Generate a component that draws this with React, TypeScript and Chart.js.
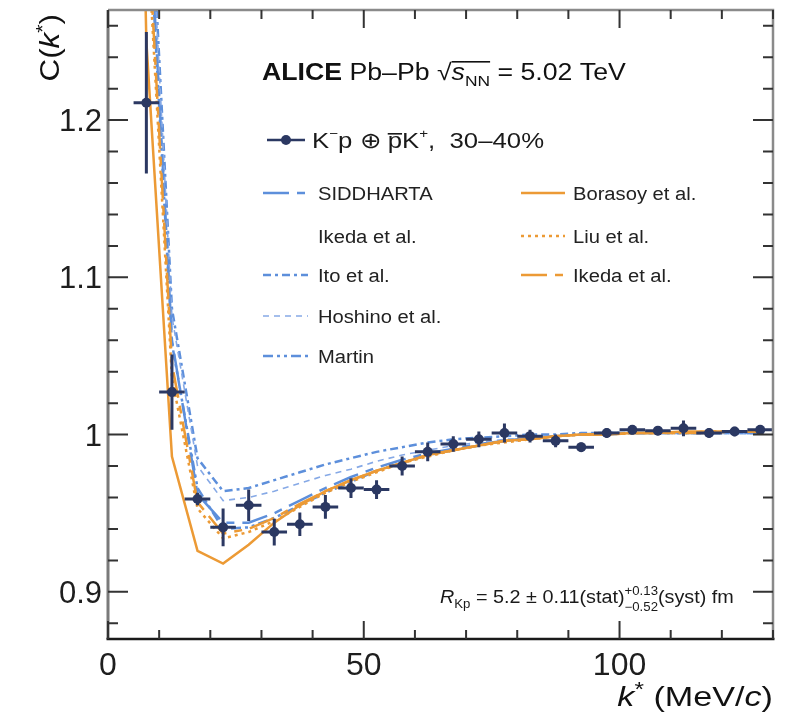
import { useEffect, useRef } from "react";
import { Chart, registerables } from "chart.js";

Chart.register(...registerables);

// ---------------- data ----------------
const kStar = [7.5, 12.5, 17.5, 22.5, 27.5, 32.5, 37.5, 42.5, 47.5, 52.5, 57.5, 62.5, 67.5, 72.5, 77.5, 82.5, 87.5, 92.5, 97.5, 102.5, 107.5, 112.5, 117.5, 122.5, 127.5];
const kErr = [2.5, 2.5, 2.5, 2.5, 2.5, 2.5, 2.5, 2.5, 2.5, 2.5, 2.5, 2.5, 2.5, 2.5, 2.5, 2.5, 2.5, 2.5, 2.5, 2.5, 2.5, 2.5, 2.5, 2.5, 2.5];
const cData = [1.211, 1.027, 0.959, 0.941, 0.955, 0.938, 0.943, 0.954, 0.966, 0.965, 0.980, 0.989, 0.994, 0.997, 1.001, 0.999, 0.996, 0.992, 1.001, 1.003, 1.0025, 1.004, 1.001, 1.002, 1.003];
const cStatErr = [0.045, 0.024, 0.004, 0.012, 0.010, 0.0085, 0.0075, 0.0075, 0.0063, 0.006, 0.006, 0.006, 0.005, 0.005, 0.006, 0.004, 0.004, 0.003, 0.003, 0.003, 0.003, 0.005, 0.003, 0.003, 0.003];

const modelK = [2.5, 7.5, 12.5, 17.5, 22.5, 27.5, 32.5, 37.5, 42.5, 47.5, 52.5, 57.5, 62.5, 67.5, 72.5, 77.5, 82.5, 87.5, 92.5, 97.5, 102.5, 107.5, 112.5, 117.5, 122.5, 127.5];
const siddharta = [2.10, 1.37, 1.060, 0.962, 0.944, 0.944, 0.950, 0.958, 0.966, 0.973, 0.979, 0.984, 0.988, 0.991, 0.994, 0.996, 0.998, 0.999, 1.000, 1.001, 1.001, 1.001, 1.001, 1.001, 1.001, 1.001];
const ito = [2.20, 1.40, 1.080, 0.985, 0.964, 0.966, 0.971, 0.976, 0.981, 0.985, 0.989, 0.992, 0.995, 0.997, 0.998, 0.999, 1.000, 1.000, 1.001, 1.001, 1.001, 1.001, 1.001, 1.001, 1.001, 1.001];
const hoshino = [2.15, 1.39, 1.075, 0.980, 0.958, 0.960, 0.964, 0.969, 0.974, 0.978, 0.983, 0.987, 0.990, 0.993, 0.995, 0.997, 0.998, 0.999, 1.000, 1.000, 1.001, 1.001, 1.001, 1.001, 1.001, 1.001];
const martin = [2.05, 1.36, 1.058, 0.966, 0.940, 0.941, 0.947, 0.955, 0.963, 0.970, 0.977, 0.982, 0.987, 0.990, 0.993, 0.996, 0.997, 0.999, 1.000, 1.000, 1.001, 1.001, 1.001, 1.001, 1.001, 1.001];
const borasoy = [2.00, 1.25, 0.986, 0.926, 0.918, 0.930, 0.944, 0.955, 0.964, 0.971, 0.977, 0.982, 0.987, 0.990, 0.993, 0.996, 0.997, 0.999, 1.000, 1.000, 1.001, 1.001, 1.002, 1.002, 1.002, 1.002];
const liu = [2.08, 1.33, 1.036, 0.953, 0.934, 0.938, 0.945, 0.954, 0.963, 0.970, 0.976, 0.982, 0.986, 0.990, 0.993, 0.995, 0.997, 0.999, 1.000, 1.000, 1.001, 1.001, 1.001, 1.002, 1.002, 1.002];
const ikedaOrange = [2.12, 1.34, 1.045, 0.957, 0.937, 0.940, 0.947, 0.956, 0.964, 0.971, 0.977, 0.982, 0.987, 0.990, 0.993, 0.996, 0.997, 0.999, 1.000, 1.000, 1.001, 1.001, 1.001, 1.001, 1.002, 1.002];

const xMajorLabels = [0, 50, 100];
const yMajorLabels = [0.9, 1.0, 1.1, 1.2];

// ---------------- styles ----------------
const FONT = "'Liberation Sans', Arial, Helvetica, sans-serif";
const NAVY = "#2b3862";
const BLUE = "#5d8fdb";
const BLUE_LIGHT = "#86a9e6";
const ORANGE = "#ec9a35";

type Run = { t: string; size: number; style?: string; dy?: number; ol?: number; noAdv?: boolean; color?: string };

function drawRuns(ctx: CanvasRenderingContext2D, x: number, y: number, runs: Run[], sx = 1, align: "left" | "right" = "left", color = "#111") {
  const widths = runs.map((r) => {
    ctx.font = `${r.style || ""} ${r.size}px ${FONT}`;
    return ctx.measureText(r.t).width;
  });
  let total = 0;
  runs.forEach((r, i) => { if (!r.noAdv) total += widths[i]; });
  ctx.save();
  ctx.translate(x, y);
  ctx.scale(sx, 1);
  ctx.textAlign = "left";
  ctx.textBaseline = "alphabetic";
  let cx = align === "right" ? -total : 0;
  runs.forEach((r, i) => {
    ctx.font = `${r.style || ""} ${r.size}px ${FONT}`;
    ctx.fillStyle = r.color || color;
    ctx.fillText(r.t, cx, r.dy || 0);
    if (r.ol !== undefined) {
      ctx.fillRect(cx, r.ol, widths[i], 1.6);
    }
    if (!r.noAdv) cx += widths[i];
  });
  ctx.restore();
  return total * sx;
}

type LegendItem = { label: string; key: string | null };
const leftLegend: LegendItem[] = [
  { label: "SIDDHARTA", key: "siddharta" },
  { label: "Ikeda et al.", key: null },
  { label: "Ito et al.", key: "ito" },
  { label: "Hoshino et al.", key: "hoshino" },
  { label: "Martin", key: "martin" },
];
const rightLegend: LegendItem[] = [
  { label: "Borasoy et al.", key: "borasoy" },
  { label: "Liu et al.", key: "liu" },
  { label: "Ikeda et al.", key: "ikedaOrange" },
];

const decorPlugin = {
  id: "decor",
  afterDatasetsDraw(chart: any) {
    const ctx: CanvasRenderingContext2D = chart.ctx;
    const xs = chart.scales.x;
    const ys = chart.scales.y;
    const area = chart.chartArea;
    ctx.save();
    ctx.beginPath();
    ctx.rect(area.left, area.top, area.right - area.left, area.bottom - area.top);
    ctx.clip();
    ctx.strokeStyle = NAVY;
    ctx.lineWidth = 3;
    ctx.lineCap = "butt";
    for (let i = 0; i < kStar.length; i++) {
      const px = xs.getPixelForValue(kStar[i]);
      const py = ys.getPixelForValue(cData[i]);
      ctx.beginPath();
      ctx.moveTo(xs.getPixelForValue(kStar[i] - kErr[i]), py);
      ctx.lineTo(xs.getPixelForValue(kStar[i] + kErr[i]), py);
      ctx.moveTo(px, ys.getPixelForValue(cData[i] - cStatErr[i]));
      ctx.lineTo(px, ys.getPixelForValue(cData[i] + cStatErr[i]));
      ctx.stroke();
    }
    ctx.restore();
  },
  afterDraw(chart: any) {
    const ctx: CanvasRenderingContext2D = chart.ctx;
    const xs = chart.scales.x;
    const ys = chart.scales.y;
    const a = chart.chartArea;
    ctx.save();

    // frame
    ctx.lineCap = "butt";
    ctx.strokeStyle = "#8a8a8a";
    ctx.lineWidth = 2.5;
    ctx.beginPath();
    ctx.moveTo(a.left, a.top);
    ctx.lineTo(a.right, a.top);
    ctx.lineTo(a.right, a.bottom);
    ctx.stroke();
    ctx.strokeStyle = "#7a7a7a";
    ctx.lineWidth = 3;
    ctx.beginPath();
    ctx.moveTo(a.left, a.top);
    ctx.lineTo(a.left, a.bottom);
    ctx.stroke();
    ctx.strokeStyle = "#1a1a1a";
    ctx.lineWidth = 2.5;
    ctx.beginPath();
    ctx.moveTo(a.left - 1.5, a.bottom);
    ctx.lineTo(a.right + 1.5, a.bottom);
    ctx.stroke();

    // ticks
    ctx.strokeStyle = "#333";
    ctx.lineWidth = 2;
    for (let v = 0; v <= 130 + 1e-9; v += 10) {
      const px = xs.getPixelForValue(v);
      const len = v % 50 === 0 ? 18 : 9;
      ctx.beginPath();
      ctx.moveTo(px, a.bottom);
      ctx.lineTo(px, a.bottom - len);
      ctx.moveTo(px, a.top);
      ctx.lineTo(px, a.top + len);
      ctx.stroke();
    }
    for (let i = 44; i <= 63; i++) {
      const v = i * 0.02;
      const py = ys.getPixelForValue(v);
      const major = i % 5 === 0;
      const len = major ? 20 : 10;
      ctx.beginPath();
      ctx.moveTo(a.left, py);
      ctx.lineTo(a.left + len, py);
      ctx.moveTo(a.right, py);
      ctx.lineTo(a.right - len, py);
      ctx.stroke();
    }

    // tick labels
    ctx.fillStyle = "#1e1e1e";
    ctx.font = `32px ${FONT}`;
    ctx.textAlign = "center";
    ctx.textBaseline = "alphabetic";
    xMajorLabels.forEach((v) => {
      ctx.fillText(String(v), xs.getPixelForValue(v), 675);
    });
    ctx.textAlign = "right";
    ctx.font = `31px ${FONT}`;
    yMajorLabels.forEach((v) => {
      const label = v === 1 ? "1" : v.toFixed(1);
      ctx.fillText(label, a.left - 6, ys.getPixelForValue(v) + 11);
    });

    // axis titles
    drawRuns(ctx, a.right, 706, [
      { t: "k", size: 28, style: "italic" },
      { t: "*", size: 20, dy: -10 },
      { t: " (MeV/", size: 28 },
      { t: "c", size: 28, style: "italic" },
      { t: ")", size: 28 },
    ], 1.22, "right");
    ctx.save();
    ctx.translate(59, 14);
    ctx.rotate(-Math.PI / 2);
    drawRuns(ctx, 0, 0, [
      { t: "C(", size: 28 },
      { t: "k", size: 28, style: "italic" },
      { t: "*", size: 19, dy: -10 },
      { t: ")", size: 28 },
    ], 1.12, "right");
    ctx.restore();

    // header
    drawRuns(ctx, 262, 80, [
      { t: "ALICE", size: 23, style: "bold" },
      { t: " Pb–Pb ", size: 23 },
      { t: "√", size: 23 },
      { t: "s", size: 23, style: "italic", ol: -19 },
      { t: "NN", size: 15, dy: 6, ol: -19 },
      { t: " = 5.02 TeV", size: 23 },
    ], 1.16, "left", "#111");

    // data legend
    ctx.strokeStyle = NAVY;
    ctx.lineWidth = 2.5;
    ctx.beginPath();
    ctx.moveTo(267, 140);
    ctx.lineTo(305, 140);
    ctx.stroke();
    ctx.fillStyle = NAVY;
    ctx.beginPath();
    ctx.arc(286, 140, 5, 0, Math.PI * 2);
    ctx.fill();
    drawRuns(ctx, 312, 148, [
      { t: "K", size: 22 },
      { t: "−", size: 13, dy: -10 },
      { t: "p ⊕ ", size: 22 },
      { t: "p", size: 22, ol: -15 },
      { t: "K", size: 22 },
      { t: "+", size: 13, dy: -10 },
      { t: ",  30–40%", size: 22 },
    ], 1.17, "left", "#1a1a1a");

    // model legend
    const dsByKey: Record<string, any> = {};
    chart.data.datasets.forEach((d: any) => { if (d.key) dsByKey[d.key] = d; });
    const rowsY = [193, 236, 275, 316, 356];
    const drawItem = (item: LegendItem, x0: number, x1: number, tx: number, y: number) => {
      if (item.key) {
        const d = dsByKey[item.key];
        ctx.save();
        ctx.strokeStyle = d.borderColor;
        ctx.lineWidth = d.borderWidth;
        ctx.setLineDash(d.borderDash || []);
        ctx.beginPath();
        ctx.moveTo(x0, y);
        ctx.lineTo(x1, y);
        ctx.stroke();
        ctx.restore();
      }
      drawRuns(ctx, tx, y + 6.5, [{ t: item.label, size: 18 }], 1.12, "left", "#222");
    };
    leftLegend.forEach((it, i) => drawItem(it, 263, 308, 318, rowsY[i]));
    rightLegend.forEach((it, i) => drawItem(it, 521, 565, 573, rowsY[i]));

    // radius annotation
    drawRuns(ctx, 440, 603, [
      { t: "R", size: 18, style: "italic" },
      { t: "Kp", size: 12, dy: 5 },
      { t: " = 5.2 ± 0.11(stat)", size: 18 },
      { t: "+0.13", size: 12, dy: -8, noAdv: true },
      { t: "−0.52", size: 12, dy: 8 },
      { t: "(syst) fm", size: 18 },
    ], 1.1, "left", "#1a1a1a");

    ctx.restore();
  },
};

function curve(key: string, label: string, values: number[], color: string, width: number, dash: number[]) {
  return {
    key,
    label,
    data: modelK.map((k, i) => ({ x: k, y: values[i] })),
    showLine: true,
    borderColor: color,
    backgroundColor: color,
    borderWidth: width,
    borderDash: dash,
    pointRadius: 0,
    tension: 0,
    clip: 0,
  };
}

export default function App() {
  const ref = useRef<HTMLCanvasElement | null>(null);
  useEffect(() => {
    document.body.style.margin = "0";
    const canvas = ref.current;
    if (!canvas) return;
    const chart = new Chart(canvas, {
      type: "scatter",
      data: {
        datasets: [
          {
            key: "data",
            label: "K−p ⊕ p̄K+, 30–40%",
            data: kStar.map((k, i) => ({ x: k, y: cData[i] })),
            pointRadius: 5,
            pointBackgroundColor: NAVY,
            pointBorderWidth: 0,
            backgroundColor: NAVY,
            borderColor: NAVY,
            showLine: false,
            clip: 0,
          } as any,
          curve("ikedaOrange", "Ikeda et al.", ikedaOrange, ORANGE, 2.5, [26, 8, 8, 8]),
          curve("liu", "Liu et al.", liu, ORANGE, 2.5, [3, 4]),
          curve("borasoy", "Borasoy et al.", borasoy, ORANGE, 2.5, []),
          curve("martin", "Martin", martin, BLUE, 2.5, [10, 4, 3, 4, 3, 4]),
          curve("hoshino", "Hoshino et al.", hoshino, BLUE_LIGHT, 1.6, [6, 5]),
          curve("ito", "Ito et al.", ito, BLUE, 2.5, [8, 4, 3, 4]),
          curve("siddharta", "SIDDHARTA Ikeda et al.", siddharta, BLUE, 2.5, [26, 8, 8, 8]),
        ],
      },
      options: {
        animation: false,
        responsive: false,
        devicePixelRatio: 1,
        events: [],
        layout: { padding: { left: 108, right: 18, top: 10, bottom: 74 } },
        scales: {
          x: { type: "linear", min: 0, max: 130, display: false },
          y: { type: "linear", min: 0.87, max: 1.27, display: false },
        },
        plugins: { legend: { display: false }, tooltip: { enabled: false }, title: { display: false } },
      },
      plugins: [decorPlugin],
    } as any);
    return () => chart.destroy();
  }, []);
  return (
    <div style={{ width: 791, height: 713, background: "#fff" }}>
      <canvas ref={ref} width={791} height={713} style={{ display: "block" }} />
    </div>
  );
}
